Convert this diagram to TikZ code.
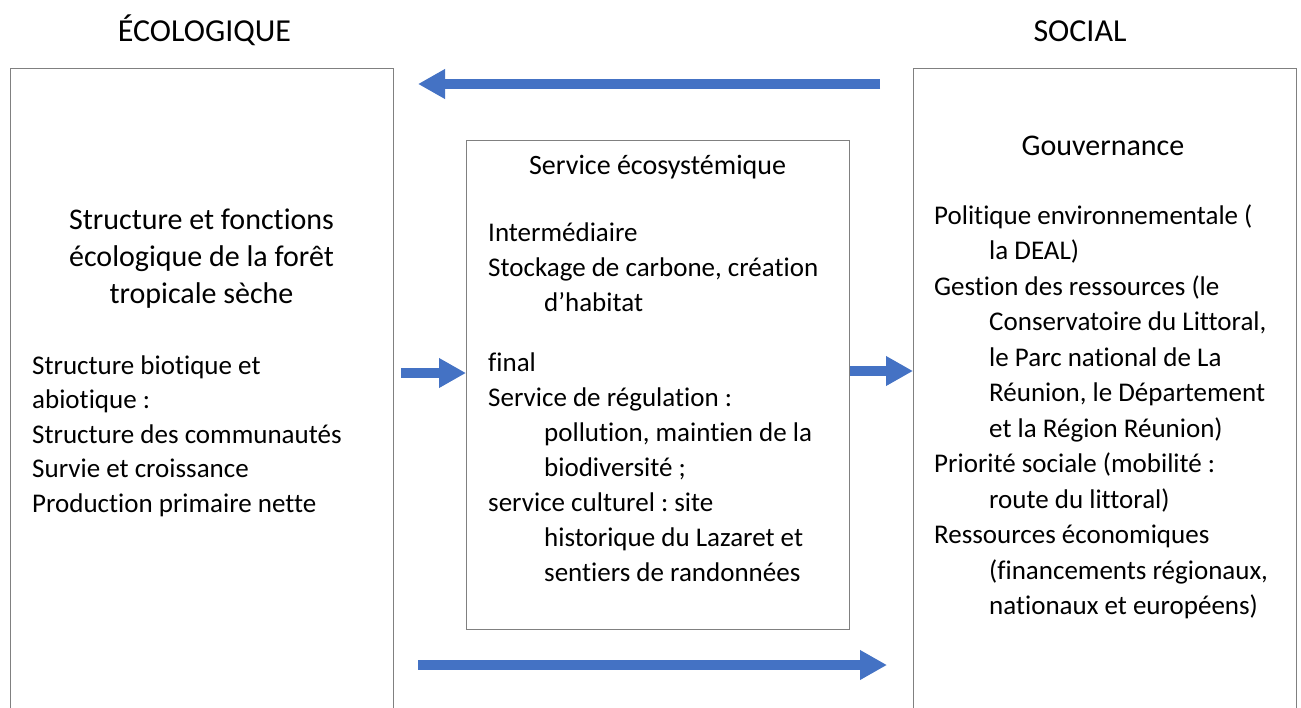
\documentclass[tikz,border=0pt]{standalone}
\usepackage{fontspec}
\setmainfont{Carlito}[Ligatures=NoCommon]
\usetikzlibrary{arrows.meta}
\definecolor{arrowblue}{RGB}{68,114,196}
\definecolor{boxgray}{RGB}{128,128,128}
\frenchspacing
\begin{document}
\begin{tikzpicture}[x=1pt,y=-1pt,
  frame/.style={draw=boxgray, line width=1.2pt, rectangle, inner sep=0pt, anchor=north west},
  bigarrow/.style={draw=arrowblue, line width=9.5pt, -{Triangle[length=27pt,width=28pt]}},
  body/.style={font=\fontsize{27}{35}\selectfont, anchor=base west, inner sep=0pt},
  head/.style={font=\fontsize{30}{37}\selectfont, anchor=base, inner sep=0pt},
  title/.style={font=\fontsize{32}{38}\selectfont, anchor=base, inner sep=0pt},
  subhead/.style={font=\fontsize{28}{35}\selectfont, anchor=base, inner sep=0pt}
]
\useasboundingbox (0,0) rectangle (1301,707);
\clip (0,0) rectangle (1301,707);
\fill[white] (0,0) rectangle (1301,707);

% boxes
\node[frame, minimum width=383pt, minimum height=660pt] (eco) at (10,68) {};
\node[frame, minimum width=383pt, minimum height=660pt] (soc) at (913,68) {};
\node[frame, minimum width=383pt, minimum height=489pt] (svc) at (466,140) {};

% titles
\node[title] (teco) at (204.5,41.5) {ÉCOLOGIQUE};
\node[title] (tsoc) at (1080,41.5) {SOCIAL};

% left box
\foreach \y/\t [count=\i] in {229/{Structure et fonctions}, 266/{écologique de la forêt}, 303/{tropicale sèche}}
  \node[head] (lh\i) at (201.5,\y) {\t};
\foreach \y/\t [count=\i] in {374/{Structure biotique et}, 408.5/{abiotique :}, 443/{Structure des communautés}, 477.5/{Survie et croissance}, 512/{Production primaire nette}}
  \node[body] (lb\i) at (32,\y) {\t};

% middle box
\node[subhead] (mh) at (657.5,174) {Service écosystémique};
\foreach \y/\x/\t [count=\i] in {241.5/488/{Intermédiaire}, 276.5/488/{Stockage de carbone, création}, 311.5/544/{d’habitat}, 371.5/488/{final}, 406.5/488/{Service de régulation :}, 441.5/544/{pollution, maintien de la}, 476.5/544/{biodiversité ;}, 511.5/488/{service culturel : site}, 546.5/544/{historique du Lazaret et}, 581.5/544/{sentiers de randonnées}}
  \node[body] (mb\i) at (\x,\y) {\t};

% right box
\node[head] (rh) at (1103,155.5) {Gouvernance};
\foreach \y/\x/\t [count=\i] in {224/934/{Politique environnementale (}, 259.5/989/{la DEAL)}, 295/934/{Gestion des ressources (le}, 330.5/989/{Conservatoire du Littoral,}, 366/989/{le Parc national de La}, 401.5/989/{Réunion, le Département}, 437/989/{et la Région Réunion)}, 472.5/934/{Priorité sociale (mobilité :}, 508/989/{route du littoral)}, 543.5/934/{Ressources économiques}, 579/989/{(financements régionaux,}, 614.5/989/{nationaux et européens)}}
  \node[body] (rb\i) at (\x,\y) {\t};

% arrows
\coordinate (ta) at (880,84);
\coordinate (tb) at (418,84);
\coordinate (ml) at (401,373);
\coordinate (mr) at (850,371);
\coordinate (ba) at (418,665);
\coordinate (bb) at (887,665);
\draw[bigarrow] (ta) -- (tb);
\draw[bigarrow] (ml) -- (svc.west |- ml);
\draw[bigarrow] (mr) -- (soc.west |- mr);
\draw[bigarrow] (ba) -- (bb);
\end{tikzpicture}
\end{document}
